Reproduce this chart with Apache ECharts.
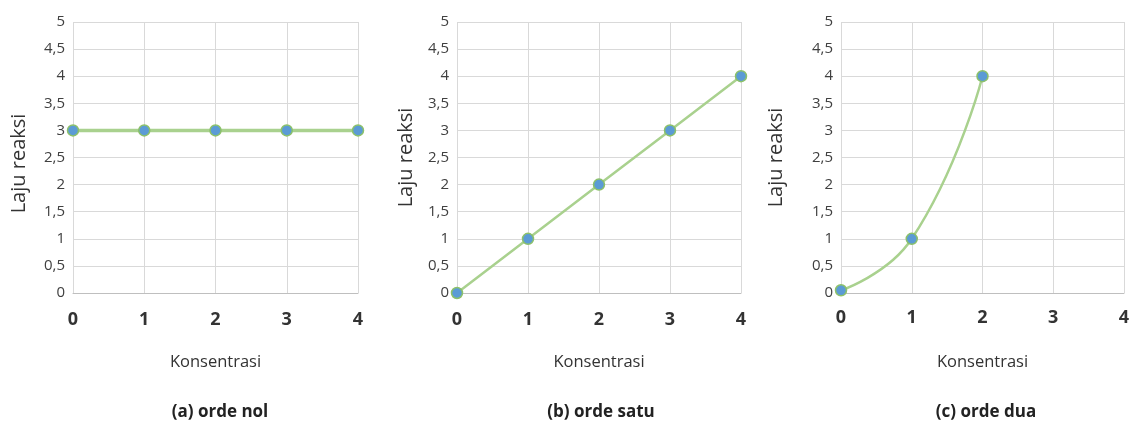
<!DOCTYPE html>
<html><head><meta charset="utf-8">
<script src="https://cdn.jsdelivr.net/npm/echarts@6/dist/echarts.min.js"></script>
<style>html,body{margin:0;padding:0;background:#fff}#c{width:1135px;height:424px}</style>
</head><body><div id="c"></div>
<script>
const xTicks = [0, 1, 2, 3, 4];
const konsA = [0, 1, 2, 3, 4];
const lajuA = [3, 3, 3, 3, 3];
const konsB = [0, 1, 2, 3, 4];
const lajuB = [0, 1, 2, 3, 4];
const konsC = [0, 1, 2];
const lajuC = [0.05, 1, 4];
const subtitles = ['(a) orde nol', '(b) orde satu', '(c) orde dua'];
const xName = 'Konsentrasi';
const yName = 'Laju reaksi';

const FONT = '"Open Sans", "Noto Sans", sans-serif';
const grids = [
  {left: 73, right: 777, top: 22, bottom: 131},
  {left: 457, right: 394, top: 22, bottom: 131},
  {left: 841, right: 11, top: 22, bottom: 131}
];
const yGaps = [44, 41, 55];
const yNamePad = [[0, 12, 0, 0], [0, 0, 0, 0], [0, 0, 0, 0]];
const xMargins = [18, 18, 16];
const subX = [220, 601, 986];
const series = [[konsA, lajuA, false], [konsB, lajuB, false], [konsC, lajuC, 0.5]];

const chart = echarts.init(document.getElementById('c'));
const option = {
  backgroundColor: '#fff',
  animation: false,
  grid: grids,
  xAxis: grids.map((g, i) => ({
    type: 'value', gridIndex: i, min: xTicks[0], max: xTicks[xTicks.length - 1], interval: 1,
    name: xName, nameLocation: 'middle', nameGap: 61,
    nameTextStyle: {fontFamily: FONT, fontSize: 16.5, color: '#333'},
    axisLine: {show: true, lineStyle: {color: '#bfbfbf', width: 1}},
    axisTick: {show: false},
    axisLabel: {fontFamily: FONT, fontSize: 18, fontWeight: 'bold', color: '#333', margin: xMargins[i]},
    splitLine: {show: true, lineStyle: {color: '#d9d9d9', width: 1}}
  })),
  yAxis: grids.map((g, i) => ({
    type: 'value', gridIndex: i, min: 0, max: 5, interval: 0.5,
    name: yName, nameLocation: 'middle', nameGap: yGaps[i],
    nameTextStyle: {fontFamily: FONT, fontSize: 20, color: '#333', padding: yNamePad[i]},
    axisLine: {show: false}, axisTick: {show: false},
    axisLabel: {fontFamily: FONT, fontSize: 15, color: '#404040', margin: 8,
      formatter: v => String(v).replace('.', ',')},
    splitLine: {show: true, lineStyle: {color: '#d9d9d9', width: 1}}
  })),
  series: series.map((s, i) => ({
    type: 'line', xAxisIndex: i, yAxisIndex: i,
    data: s[0].map((x, k) => [x, s[1][k]]),
    smooth: s[2],
    lineStyle: {color: '#a9d18e', width: i === 0 ? 3.5 : 2.5},
    symbol: 'circle', symbolSize: 11,
    itemStyle: {color: '#5b9bd5', borderColor: '#8cc16a', borderWidth: 1.5}
  })),
  graphic: subtitles.map((t, i) => ({
    type: 'text', x: subX[i], y: 404,
    style: {text: t, fontFamily: FONT, fontSize: 17, fontWeight: 'bold', fill: '#222', textAlign: 'center'}
  }))
};
chart.setOption(option);
</script></body></html>
